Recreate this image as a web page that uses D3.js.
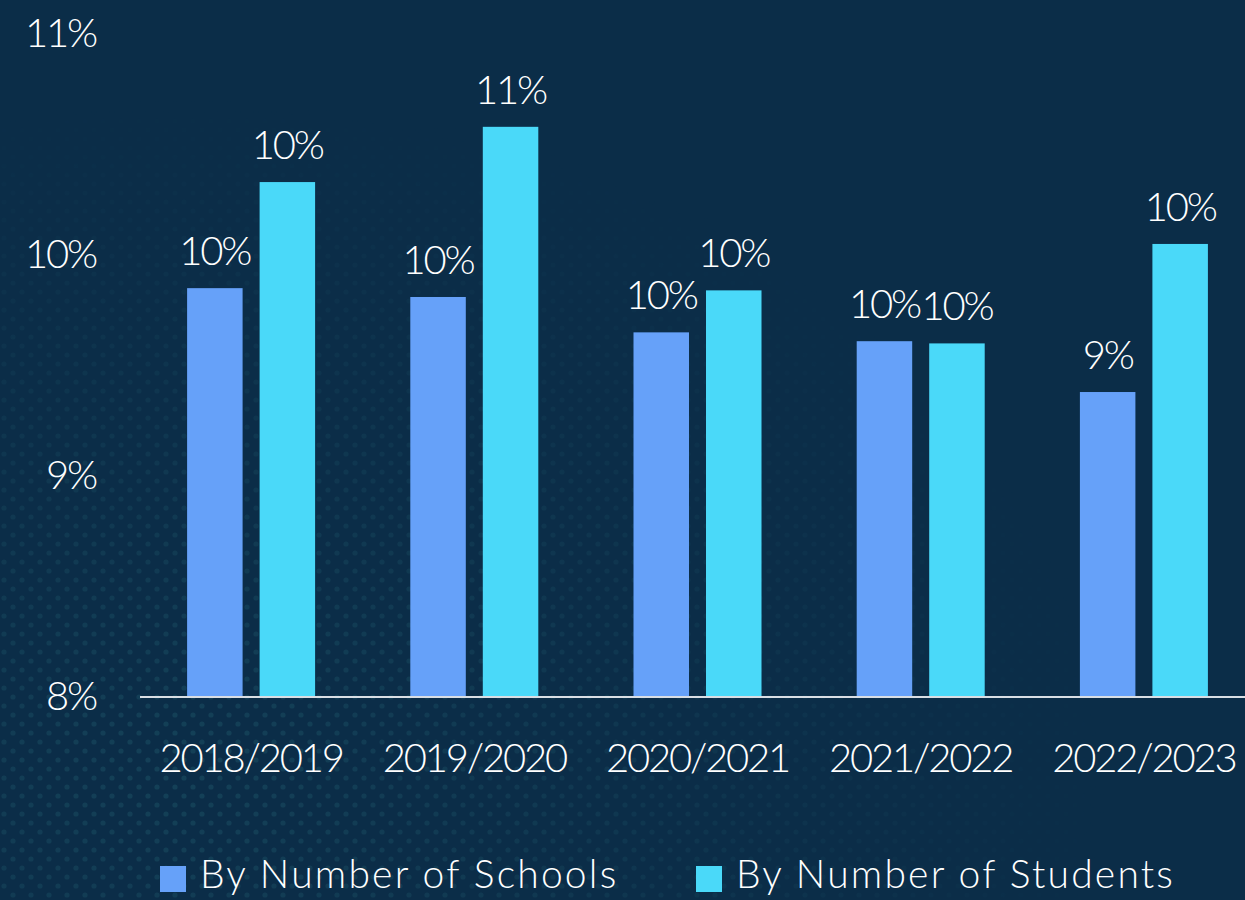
<!DOCTYPE html>
<html>
<head>
<meta charset="utf-8">
<script src="https://cdn.jsdelivr.net/npm/d3@7"></script>
<style>
  html, body { margin: 0; padding: 0; background: #0b2d48; }
  svg { display: block; }
  text { font-family: Lato, "Open Sans", sans-serif; font-weight: 300; fill: #ffffff; }
</style>
</head>
<body>
<svg id="chart" width="1245" height="900"></svg>
<script>
// School years on the x axis
const years = ["2018/2019", "2019/2020", "2020/2021", "2021/2022", "2022/2023"];
// Share (%) by number of schools
const bySchools = [9.85, 9.81, 9.65, 9.61, 9.38];
// Share (%) by number of students
const byStudents = [10.33, 10.58, 9.84, 9.60, 10.05];
// Series names and y tick values
const seriesNames = ["By Number of Schools", "By Number of Students"];
const yTicks = [8, 9, 10, 11];

const colors = { "By Number of Schools": "#66a1f9", "By Number of Students": "#4ad9f9" };

const W = 1245, H = 900;
const svg = d3.select("#chart");

// Faint dotted texture in the background
const defs = svg.append("defs");
const pat = defs.append("pattern")
  .attr("id", "dots").attr("patternUnits", "userSpaceOnUse")
  .attr("width", 18).attr("height", 18);
pat.append("circle").attr("cx", 4).attr("cy", 4).attr("r", 2.6).attr("fill", "#2c7380");
pat.append("circle").attr("cx", 13).attr("cy", 13).attr("r", 2.6).attr("fill", "#2c7380");
const grad = defs.append("radialGradient").attr("id", "fade")
  .attr("cx", 0.15).attr("cy", 0.85).attr("r", 0.75);
grad.append("stop").attr("offset", "0%").attr("stop-color", "#fff").attr("stop-opacity", 0.7);
grad.append("stop").attr("offset", "100%").attr("stop-color", "#fff").attr("stop-opacity", 0);
defs.append("mask").attr("id", "fadeMask")
  .append("rect").attr("width", W).attr("height", H).attr("fill", "url(#fade)");

svg.append("rect").attr("width", W).attr("height", H).attr("fill", "#0b2d48");
svg.append("rect").attr("width", W).attr("height", H)
  .attr("fill", "url(#dots)").attr("opacity", 0.4).attr("mask", "url(#fadeMask)");

// Scales
const y = d3.scaleLinear().domain([8, 11]).range([697, 34]);
const x0 = d3.scaleBand().domain(years).range([139.5, 1255.5])
  .paddingInner(0.4265).paddingOuter(0.21325);
const x1 = d3.scaleBand().domain(seriesNames).range([0, x0.bandwidth()])
  .paddingInner(0.2345).paddingOuter(0);

const rows = years.map((yr, i) => ({
  year: yr,
  values: [
    { key: seriesNames[0], value: bySchools[i] },
    { key: seriesNames[1], value: byStudents[i] }
  ]
}));

// Y tick labels (no axis line)
const yAxis = d3.axisLeft(y).tickValues(yTicks).tickSize(0).tickPadding(0)
  .tickFormat(d => d + "%");
const yg = svg.append("g").attr("transform", "translate(96,0)").call(yAxis);
yg.select(".domain").remove();
yg.selectAll("text")
  .attr("font-size", 40).attr("letter-spacing", -2.2)
  .attr("font-family", "Lato, sans-serif").attr("font-weight", 300).attr("fill", "#fff")
  .attr("dy", "0.3em");

// Bars
const groups = svg.append("g").selectAll("g").data(rows).join("g")
  .attr("transform", d => `translate(${x0(d.year)},0)`);

groups.selectAll("rect").data(d => d.values).join("rect")
  .attr("x", d => x1(d.key))
  .attr("width", x1.bandwidth())
  .attr("y", d => y(d.value))
  .attr("height", d => y(8) - y(d.value))
  .attr("fill", d => colors[d.key]);

// Value labels
groups.selectAll("text.val").data(d => d.values).join("text")
  .attr("class", "val")
  .attr("x", d => x1(d.key) + x1.bandwidth() / 2)
  .attr("y", d => y(d.value) - 23)
  .attr("text-anchor", "middle")
  .attr("font-size", 40).attr("letter-spacing", -2.2)
  .text(d => Math.round(d.value) + "%");

// X axis
const xAxis = d3.axisBottom(x0).tickSize(0).tickPadding(0);
const xg = svg.append("g").attr("transform", `translate(0,${y(8)})`).call(xAxis);
xg.select(".domain").remove();
xg.append("line").attr("x1", 140).attr("x2", W).attr("y1", 0).attr("y2", 0)
  .attr("stroke", "#d9dee4").attr("stroke-width", 2);
xg.selectAll(".tick text")
  .attr("font-size", 40).attr("letter-spacing", -2.2)
  .attr("font-family", "Lato, sans-serif").attr("font-weight", 300).attr("fill", "#fff")
  .attr("dy", 0).attr("y", 75);

// Legend
const legendX = [160, 696];
const legend = svg.append("g").selectAll("g").data(seriesNames).join("g")
  .attr("transform", (d, i) => `translate(${legendX[i]},866)`);
legend.append("rect").attr("width", 26).attr("height", 26)
  .attr("fill", d => colors[d]);
legend.append("text").attr("x", 40).attr("y", 22)
  .attr("font-size", 39).attr("letter-spacing", 2.2)
  .text(d => d);
</script>
</body>
</html>
